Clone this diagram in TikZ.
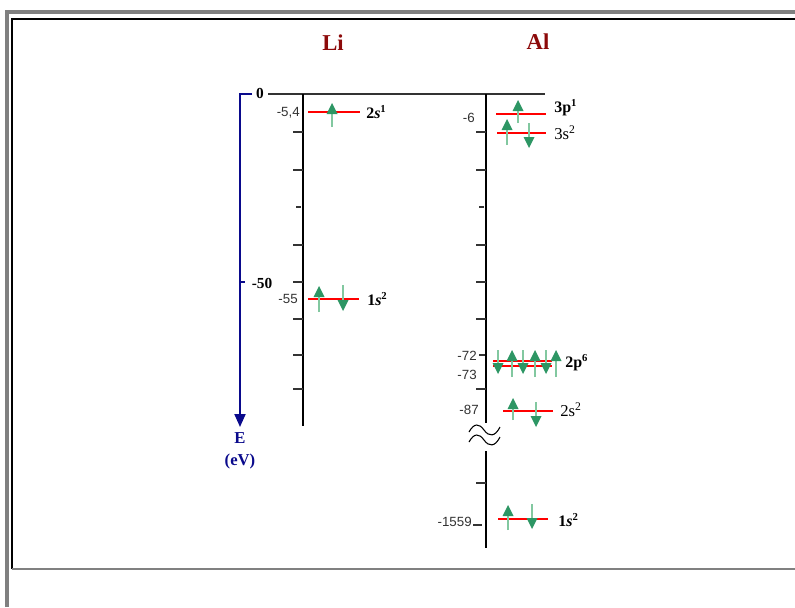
\documentclass[tikz,border=0pt]{standalone}
\usepackage{fontspec}
\setmainfont{Liberation Serif}
\newfontfamily\lsans{Liberation Sans}
\usetikzlibrary{arrows.meta}
\definecolor{ttl}{RGB}{140,10,10}
\definecolor{navy}{RGB}{10,10,140}
\definecolor{shaftc}{RGB}{130,200,160}
\definecolor{headc}{RGB}{45,150,100}
\definecolor{framegray}{RGB}{128,128,128}
\definecolor{numc}{RGB}{50,50,50}
\newcommand\spinup[3]{%
  \draw[shaft] (#1,#2) -- (#1,#3+8);
  \fill[headc] (#1,#3) -- (#1-5.5,#3+11) -- (#1+5.5,#3+11) -- cycle;}
\newcommand\spindown[3]{%
  \draw[shaft] (#1,#2) -- (#1,#3-8);
  \fill[headc] (#1,#3) -- (#1-5.5,#3-11) -- (#1+5.5,#3-11) -- cycle;}
\begin{document}
\begin{tikzpicture}[x=0.75pt,y=-0.75pt,
  shaft/.style={draw=shaftc,line width=1.2pt},
  level/.style={draw=red,line width=1.5pt},
  axisline/.style={draw=black,line width=1.4pt},
  tick/.style={draw=black!80,line width=0.8pt},
  numlab/.style={font=\lsans\fontsize{10}{11}\selectfont,text=numc,inner sep=0pt},
  orb/.style={font=\bfseries\fontsize{12}{14}\selectfont,inner sep=0pt,anchor=west},
  orbr/.style={font=\fontsize{12.5}{14}\selectfont,text=black,inner sep=0pt,anchor=west},
  title/.style={font=\bfseries\fontsize{17}{20}\selectfont,text=ttl,inner sep=0pt},
  bluelab/.style={font=\bfseries\fontsize{12.5}{15}\selectfont,text=navy,inner sep=0pt}]
\useasboundingbox (0,0) rectangle (795,607);
% frame
\draw[framegray,line width=2.4pt] (7,607) -- (7,12) -- (795,12);
\draw[black,line width=0.8pt] (12,569) -- (12,19) -- (795,19);
\draw[framegray,line width=1.1pt] (12,569) -- (795,569);
% titles
\node[title] (li) at (333,43) {Li};
\node[title] (al) at (538,42) {Al};
% top line
\draw[black!80,line width=0.8pt] (268,94) -- (545,94);
% energy axis
\draw[navy,line width=1.5pt,-{Triangle[length=9.75pt,width=8.25pt]}] (252,94) -- (240,94) -- (240,427);
\draw[navy,line width=1.2pt] (240,282) -- (245,282);
\node[font=\bfseries\fontsize{11.5}{13}\selectfont,inner sep=0pt] (z) at (260,93) {0};
\node[font=\bfseries\fontsize{11.5}{13}\selectfont,inner sep=0pt] (m50) at (262,283) {-50};
\node[bluelab] (e) at (240,438) {E};
\node[bluelab] (ev) at (240,461) {(eV)};
% Li axis
\draw[axisline] (303,94) -- (303,426);
\foreach \y in {132,170,245,282,319,355,389} \draw[tick] (293,\y) -- (303,\y);
\draw[tick] (296,207) -- (301,207);
\node[numlab,anchor=east] (l1) at (300,113) {-5,4};
\node[numlab,anchor=east] (l2) at (298,299) {-55};
% Li levels
\draw[level] (308,112) -- (360,112);
\spinup{332}{127}{103}
\node[orb] (li2s) at (366,112) {2\textit{s}\textsuperscript{1}};
\draw[level] (308,299) -- (359,299);
\spinup{319}{312}{286}
\spindown{343}{285}{311}
\node[orb] (li1s) at (367,299) {1\textit{s}\textsuperscript{2}};
% Al axis
\draw[axisline] (486,94) -- (486,423);
\draw[axisline] (486,451) -- (486,548);
\foreach \y in {132,170,245,282,319,389,483} \draw[tick] (476,\y) -- (486,\y);
\draw[tick] (479,207) -- (484,207);
\draw[tick] (479,355) -- (485,355);
\draw[tick] (473,525) -- (482,525);
\draw[black,line width=0.8pt] (469,432) .. controls (474,423) and (479,423) .. (484,430) .. controls (489,437) and (495,437) .. (500,427);
\draw[black,line width=0.8pt] (469,442) .. controls (474,433) and (479,433) .. (484,440) .. controls (489,447) and (495,447) .. (500,437);
\node[numlab,anchor=east] (a1) at (475,118) {-6};
\node[numlab,anchor=east] (a2) at (477,356) {-72};
\node[numlab,anchor=east] (a3) at (477,375) {-73};
\node[numlab,anchor=east] (a4) at (479,410) {-87};
\node[numlab,anchor=east] (a5) at (472,522) {-1559};
% Al levels
\draw[level] (496,114) -- (546,114);
\spinup{518}{123}{100}
\node[orb] (al3p) at (554,108) {3p\textsuperscript{1}};
\draw[level] (497,133) -- (546,133);
\spinup{507}{145}{119}
\spindown{529}{123}{148}
\node[orbr] (al3s) at (554,133) {3s\textsuperscript{2}};
\draw[level] (493,361) -- (552,361);
\draw[level] (493,366) -- (552,366);
\foreach \x in {512,535,556} {\spinup{\x}{377}{350}}
\foreach \x in {498,523,546} {\spindown{\x}{350}{374}}
\node[orb] (al2p) at (565,363) {2p\textsuperscript{6}};
\draw[level] (503,411) -- (553,411);
\spinup{513}{420}{398}
\spindown{536}{402}{427}
\node[orbr] (al2s) at (560,410) {2s\textsuperscript{2}};
\draw[level] (498,519) -- (548,519);
\spinup{508}{530}{505}
\spindown{532}{504}{529}
\node[orb] (al1s) at (558,520) {1\textit{s}\textsuperscript{2}};
\end{tikzpicture}
\end{document}
